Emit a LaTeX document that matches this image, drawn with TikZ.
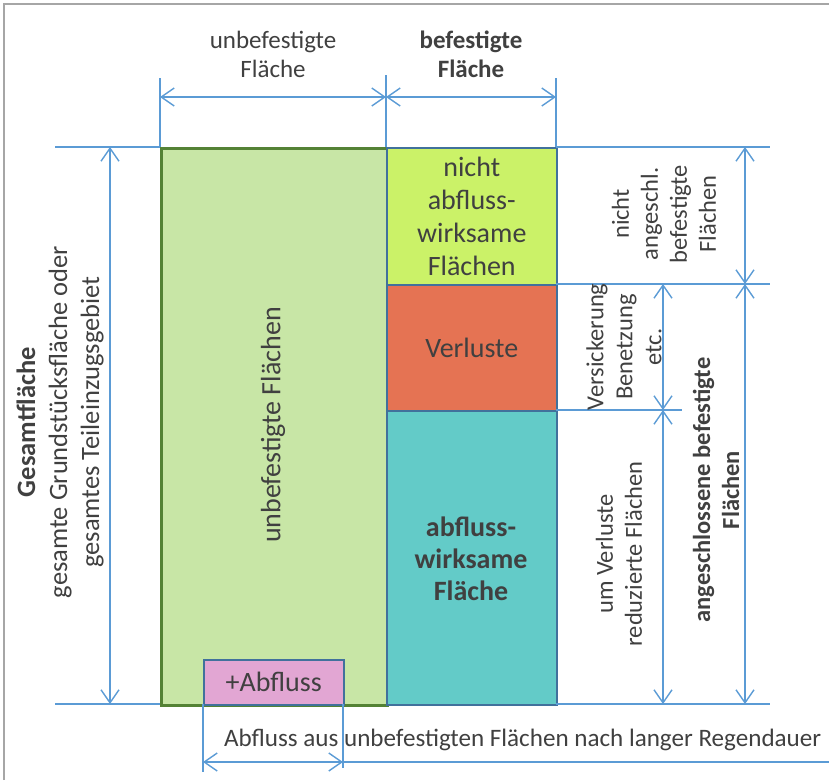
\documentclass[tikz,border=0pt]{standalone}
\usepackage{fontspec}
\setmainfont{Carlito}
\usetikzlibrary{arrows.meta}
\definecolor{txt}{HTML}{404040}
\definecolor{dimc}{HTML}{5B9BD5}
\definecolor{boxc}{HTML}{41719C}
\definecolor{greenb}{HTML}{548235}
\definecolor{greenf}{HTML}{C8E6A6}
\definecolor{limef}{HTML}{CBF268}
\definecolor{orangef}{HTML}{E57353}
\definecolor{tealf}{HTML}{63CBC8}
\definecolor{pinkf}{HTML}{E2A6D3}
\definecolor{framec}{HTML}{A6A6A6}
\begin{document}
\begin{tikzpicture}[x=1pt,y=-1pt,
  dim/.style={draw=dimc, line width=1.4pt},
  barb/.tip={Straight Barb[length=13pt,width=18pt,line width=1.4pt]},
  dimarrow/.style={dim, barb-barb},
  lbl/.style={text=txt, align=center, inner sep=0pt, font=\fontsize{24.5}{29}\selectfont},
  boxlbl/.style={lbl, font=\fontsize{28}{33}\selectfont},
  area/.style={draw=boxc, line width=1.5pt, inner sep=0pt, anchor=north west},
]
\useasboundingbox (0,0) rectangle (829,780);
\draw[framec, line width=1.5pt] (4,780) -- (4,4) -- (829,4);

% areas
\node[area, draw=greenb, line width=3pt, fill=greenf, minimum width=226pt, minimum height=557pt] (main) at (160,147) {};
\node[area, fill=limef, minimum width=170pt, minimum height=137pt] (nicht) at (386,147) {};
\node[area, fill=orangef, minimum width=170pt, minimum height=126pt] (verl) at (386,284) {};
\node[area, fill=tealf, minimum width=170pt, minimum height=294pt] (wirk) at (386,410) {};
\node[area, fill=pinkf, minimum width=140pt, minimum height=45pt] (plus) at (203,659) {};

% labels in areas
\node[boxlbl] (tnicht) at (nicht.center) {nicht\\abfluss-\\wirksame\\Flächen};
\node[boxlbl] (tverl) at (verl.center) {Verluste};
\node[boxlbl, font=\fontsize{28}{32}\selectfont\bfseries] (twirk) at (471,559) {abfluss-\\wirksame\\Fläche};
\node[boxlbl, rotate=90] (tmain) at (273,425) {unbefestigte Flächen};
\node[boxlbl] (tplus) at (plus.center) {+Abfluss};

% top labels
\node[lbl, font=\fontsize{25}{29}\selectfont] (tunb) at (273,54) {unbefestigte\\Fläche};
\node[lbl, font=\fontsize{25}{29}\selectfont\bfseries] (tbef) at (471,54) {befestigte\\Fläche};

% top dimensions
\coordinate (t1) at (160,78); \coordinate (t2) at (386,75); \coordinate (t3) at (556,78);
\coordinate (b1) at (160,147); \coordinate (b2) at (386,147); \coordinate (b3) at (556,147);
\coordinate (a1) at (160,97); \coordinate (a2) at (386,97); \coordinate (a3) at (556,97);
\draw[dim] (t1) -- (b1); \draw[dim] (t2) -- (b2); \draw[dim] (t3) -- (b3);
\draw[dimarrow] (a1) -- (a2);
\draw[dimarrow] (a2) -- (a3);

% left
\coordinate (l1) at (55,147); \coordinate (l2) at (55,704);
\coordinate (m1) at (160,147); \coordinate (m2) at (160,704);
\draw[dim] (l1) -- (m1); \draw[dim] (l2) -- (m2);
\coordinate (la1) at (110,147); \coordinate (la2) at (110,704);
\draw[dimarrow] (la1) -- (la2);
\node[lbl, rotate=90, font=\fontsize{26.5}{32}\selectfont] (tges) at (60,422) {\textbf{Gesamtfläche}\\gesamte Grundstücksfläche oder\\gesamtes Teileinzugsgebiet};

% right
\coordinate (r0a) at (556,147); \coordinate (r0b) at (770,147);
\coordinate (r1a) at (556,284); \coordinate (r1b) at (770,284);
\coordinate (r2a) at (556,410); \coordinate (r2b) at (682,410);
\coordinate (r3a) at (556,704); \coordinate (r3b) at (770,704);
\draw[dim] (r0a) -- (r0b); \draw[dim] (r1a) -- (r1b);
\draw[dim] (r2a) -- (r2b); \draw[dim] (r3a) -- (r3b);
\coordinate (q0) at (745,147); \coordinate (q1) at (745,284); \coordinate (q3) at (745,704);
\coordinate (p1) at (663,284); \coordinate (p2) at (663,410); \coordinate (p3) at (663,704);
\draw[dimarrow] (q0) -- (q1);
\draw[dimarrow] (q1) -- (q3);
\draw[dimarrow] (p1) -- (p2);
\draw[dimarrow] (p2) -- (p3);
\node[lbl, rotate=90] (tnang) at (664,214) {nicht\\angeschl.\\befestigte\\Flächen};
\node[lbl, rotate=90] (tvers) at (624,347) {Versickerung\\Benetzung\\etc.};
\node[lbl, rotate=90] (tred) at (619,554) {um Verluste\\reduzierte Flächen};
\node[lbl, rotate=90, font=\fontsize{24.5}{29}\selectfont\bfseries] (tang) at (716,490) {angeschlossene befestigte\\Flächen};

% bottom
\coordinate (u1) at (203,704); \coordinate (u2) at (203,772);
\coordinate (v1) at (343,704); \coordinate (v2) at (343,768);
\draw[dim] (u1) -- (u2); \draw[dim] (v1) -- (v2);
\coordinate (w1) at (203,762); \coordinate (w2) at (343,762); \coordinate (w3) at (829,762);
\draw[dimarrow] (w1) -- (w2);
\draw[dim] (w2) -- (w3);
\node[lbl, anchor=west, font=\fontsize{25.1}{30}\selectfont] (tabf) at (224,740) {Abfluss aus unbefestigten Flächen nach langer Regendauer};
\end{tikzpicture}
\end{document}
